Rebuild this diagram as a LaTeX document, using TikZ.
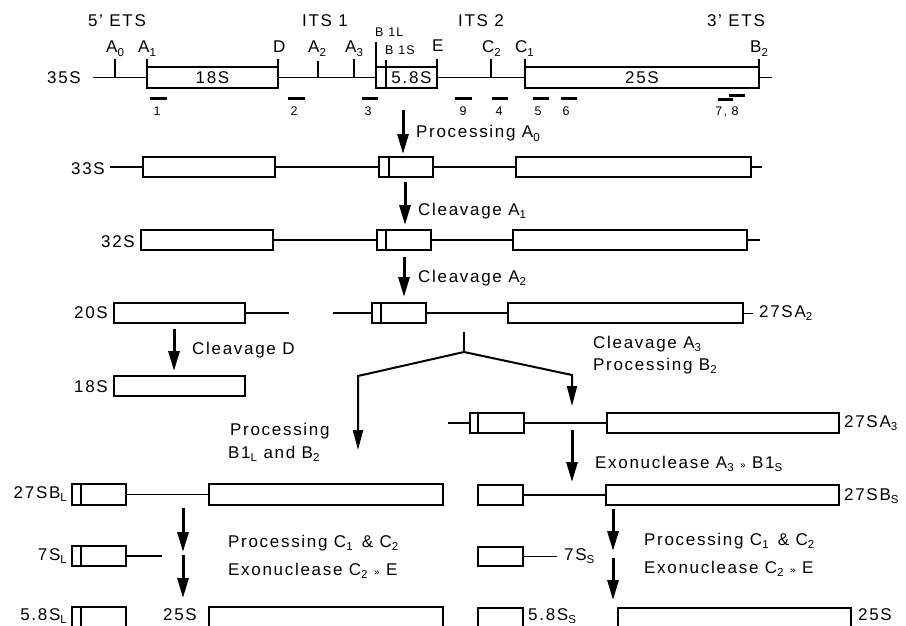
\documentclass[tikz,border=0pt]{standalone}
\usepackage{fontspec}
\setmainfont[LetterSpace=10]{Liberation Sans}
\usetikzlibrary{arrows.meta}
\newcommand\lsub[1]{\raisebox{-0.35ex}{\fontsize{11.5}{12}\selectfont #1}}
\newcommand\gtsep{{\fontsize{10}{12}\selectfont »}}
\newcommand\bx[5]{\node[rnabox, minimum width={#4-#2}, minimum height={#5-#3}] (#1) at ({(#2+#4)/2},{(#3+#5)/2}) {};}
\newcommand\inner[2]{\draw[ln] ([xshift=#2]#1.north west) -- ([xshift=#2]#1.south west);}
\tikzset{
  ln/.style={line width=1.6pt},
  thinln/.style={line width=0.9pt},
  rnabox/.style={draw, line width=1.6pt, rectangle, inner sep=0pt, outer sep=0pt, fill=white},
  lbl/.style={inner sep=0pt, font=\fontsize{17}{19}\selectfont},
  sml/.style={inner sep=0pt, font=\fontsize{12.5}{14}\selectfont},
  probe/.style={line width=3pt},
  bigarrow/.style={line width=3pt, -{Triangle[length=20pt,width=11pt]}},
  brarrow/.style={line width=2pt, -{Triangle[length=20pt,width=10pt]}},
}
\begin{document}
\begin{tikzpicture}[x=1pt,y=-1pt]
\useasboundingbox (0,0) rectangle (906,626);
\fill[white] (0,0) rectangle (906,626);
\clip (0,0) rectangle (906,626);

% ---------- Row 35S ----------
\node[lbl, anchor=base] (ets5) at (117,27) {5' ETS};
\node[lbl, anchor=base] (its1) at (325,27) {ITS 1};
\node[lbl, anchor=base] (its2) at (481,27) {ITS 2};
\node[lbl, anchor=base] (ets3) at (736,27) {3' ETS};
\node[lbl, anchor=base east] (n35) at (81,84) {35S};
\coordinate (s35) at (93,77.5);
\coordinate (e35) at (772,77.5);
\bx{a18}{147}{67}{278}{88}
\bx{a58}{376}{67}{437}{88}
\bx{a25}{525}{67}{759}{88}
\inner{a58}{10pt}
\draw[ln] (s35) -- (a18.west) (a18.east) -- (a58.west) (a58.east) -- (a25.west) (a25.east) -- (e35);
\node[lbl] (t18) at (212.5,77.5) {18S};
\node[lbl] (t58) at (411.5,77.5) {5.8S};
\node[lbl] (t25) at (642,77.5) {25S};
% ticks
\draw[ln] (115,59) -- (115,77.5);
\draw[ln] (147,59) -- (147,67);
\draw[ln] (278,59) -- (278,67);
\draw[ln] (318,61) -- (318,77.5);
\draw[ln] (354,59) -- (354,77.5);
\draw[ln] (376,42) -- (376,67);
\draw[ln] (386,60) -- (386,67);
\draw[ln] (437,59) -- (437,67);
\draw[ln] (491,59) -- (491,77.5);
\draw[ln] (525,59) -- (525,67);
\draw[ln] (759,59) -- (759,67);
% site labels
\node[lbl, anchor=base west] (sA0) at (106,53) {A\lsub{0}};
\node[lbl, anchor=base west] (sA1) at (138,53) {A\lsub{1}};
\node[lbl, anchor=base west] (sD) at (273,53) {D};
\node[lbl, anchor=base west] (sA2) at (308,53) {A\lsub{2}};
\node[lbl, anchor=base west] (sA3) at (345,53) {A\lsub{3}};
\node[sml, anchor=base west] (sB1L) at (375,37) {B 1L};
\node[sml, anchor=base west] (sB1S) at (385,55) {B 1S};
\node[lbl, anchor=base west] (sE) at (432,52) {E};
\node[lbl, anchor=base west] (sC2) at (482,53) {C\lsub{2}};
\node[lbl, anchor=base west] (sC1) at (515,53) {C\lsub{1}};
\node[lbl, anchor=base west] (sB2) at (750,53) {B\lsub{2}};
% probes
\draw[probe] (150,99) -- (167,99);
\draw[probe] (288,99) -- (305,99);
\draw[probe] (362,99) -- (378,99);
\draw[probe] (455,99) -- (472,99);
\draw[probe] (492,99) -- (508,99);
\draw[probe] (533,99) -- (549,99);
\draw[probe] (561,99) -- (577,99);
\draw[probe] (718,100) -- (733,100);
\draw[probe] (729,96) -- (745,96);
\node[sml, anchor=base] (p1) at (157,115) {1};
\node[sml, anchor=base] (p2) at (294,115) {2};
\node[sml, anchor=base] (p3) at (368,115) {3};
\node[sml, anchor=base] (p9) at (463,115) {9};
\node[sml, anchor=base] (p4) at (499,115) {4};
\node[sml, anchor=base] (p5) at (538,115) {5};
\node[sml, anchor=base] (p6) at (566,115) {6};
\node[sml, anchor=base] (p78) at (727,115) {7, 8};

% ---------- Processing A0 ----------
\coordinate (ar1s) at (403,110);
\coordinate (ar1e) at (403,154);
\draw[bigarrow] (ar1s) -- (ar1e);
\node[lbl, anchor=base west] (tpa0) at (416,138) {Processing A\lsub{0}};

% ---------- Row 33S ----------
\node[lbl, anchor=base east] (n33) at (105,174) {33S};
\coordinate (s33) at (110,167);
\coordinate (e33) at (762,167);
\bx{b18}{143}{157}{275}{177}
\bx{b58}{379}{157}{433}{177}
\bx{b25}{516}{157}{751}{177}
\inner{b58}{10pt}
\draw[ln] (s33) -- (b18.west) (b18.east) -- (b58.west) (b58.east) -- (b25.west) (b25.east) -- (e33);

\coordinate (ar2s) at (405,182);
\coordinate (ar2e) at (405,225);
\draw[bigarrow] (ar2s) -- (ar2e);
\node[lbl, anchor=base west] (tca1) at (418,215) {Cleavage A\lsub{1}};

% ---------- Row 32S ----------
\node[lbl, anchor=base east] (n32) at (135,247) {32S};
\coordinate (e32) at (760,240);
\bx{c18}{141}{230}{273}{250}
\bx{c58}{377}{230}{431}{250}
\bx{c25}{513}{230}{747}{250}
\inner{c58}{9pt}
\draw[ln] (c18.east) -- (c58.west) (c58.east) -- (c25.west) (c25.east) -- (e32);

\coordinate (ar3s) at (404,257);
\coordinate (ar3e) at (404,297);
\draw[bigarrow] (ar3s) -- (ar3e);
\node[lbl, anchor=base west] (tca2) at (418,282) {Cleavage A\lsub{2}};

% ---------- Row 20S / 27SA2 ----------
\node[lbl, anchor=base east] (n20) at (108,318) {20S};
\bx{d18}{114}{303}{245}{323}
\coordinate (e20) at (289,313);
\draw[ln] (d18.east) -- (e20);
\coordinate (s27a2) at (333,313);
\coordinate (e27a2) at (753,313);
\bx{d58}{372}{303}{426}{323}
\bx{d25}{508}{303}{743}{323}
\inner{d58}{9pt}
\draw[ln] (s27a2) -- (d58.west) (d58.east) -- (d25.west);
\draw[thinln] (d25.east) -- (e27a2);
\node[lbl, anchor=base west] (n27a2) at (759,317) {27SA\lsub{2}};

\coordinate (ar4s) at (174,329);
\coordinate (ar4e) at (174,371);
\draw[bigarrow] (ar4s) -- (ar4e);
\node[lbl, anchor=base west] (tcd) at (192,354) {Cleavage D};

\node[lbl, anchor=base east] (n18) at (108,392) {18S};
\bx{f18}{114}{376}{245}{396}

% ---------- Branch ----------
\coordinate (br0) at (464,332);
\coordinate (br1) at (464,352);
\coordinate (brL) at (358,376);
\coordinate (brLe) at (358,450);
\coordinate (brR) at (572,375);
\coordinate (brRe) at (572,406);
\draw[ln] (br0) -- (br1);
\draw[brarrow] (br1) -- (brL) -- (brLe);
\draw[brarrow] (br1) -- (brR) -- (brRe);
\node[lbl, anchor=base west] (tpb1) at (230,435) {Processing};
\node[lbl, anchor=base west] (tpb2) at (228,458) {B1\lsub{L} and B\lsub{2}};
\node[lbl, anchor=base west] (tca3) at (593,348) {Cleavage A\lsub{3}};
\node[lbl, anchor=base west] (tpb3) at (593,370) {Processing B\lsub{2}};

% ---------- Row 27SA3 ----------
\coordinate (s27a3) at (448,423);
\bx{g58}{470}{413}{524}{433}
\bx{g25}{607}{413}{839}{433}
\inner{g58}{8pt}
\draw[ln] (s27a3) -- (g58.west) (g58.east) -- (g25.west);
\node[lbl, anchor=base west] (n27a3) at (844,427) {27SA\lsub{3}};

\coordinate (ar5s) at (572,430);
\coordinate (ar5e) at (572,482);
\draw[bigarrow] (ar5s) -- (ar5e);
\node[lbl, anchor=base west] (texo1) at (595,468) {Exonuclease A\lsub{3} \gtsep{} B1\lsub{S}};

% ---------- Row 27SBL / 27SBS ----------
\node[lbl, anchor=base east] (n27bl) at (67,498) {27SB\lsub{L}};
\bx{h58}{72}{484}{126}{505}
\bx{h25}{209}{484}{443}{505}
\inner{h58}{9pt}
\draw[thinln] (h58.east) -- (h25.west);

\bx{i58}{478}{485}{523}{505}
\bx{i25}{606}{485}{839}{505}
\draw[ln] (i58.east) -- (i25.west);
\node[lbl, anchor=base west] (n27bs) at (844,500) {27SB\lsub{S}};

\coordinate (ar6s) at (183,508);
\coordinate (ar6e) at (183,552);
\coordinate (ar7s) at (183,555);
\coordinate (ar7e) at (183,598);
\draw[bigarrow] (ar6s) -- (ar6e);
\draw[bigarrow] (ar7s) -- (ar7e);
\coordinate (ar8s) at (613,509);
\coordinate (ar8e) at (613,551);
\coordinate (ar9s) at (613,558);
\coordinate (ar9e) at (613,600);
\draw[bigarrow] (ar8s) -- (ar8e);
\draw[bigarrow] (ar9s) -- (ar9e);

% ---------- Row 7S ----------
\node[lbl, anchor=base east] (n7sl) at (67,560) {7S\lsub{L}};
\bx{j58}{72}{546}{126}{566}
\inner{j58}{9pt}
\coordinate (e7sl) at (162,556);
\draw[ln] (j58.east) -- (e7sl);

\bx{k58}{478}{547}{523}{566}
\coordinate (e7ss) at (557,556.5);
\draw[ln] (k58.east) -- (e7ss);
\node[lbl, anchor=base west] (n7ss) at (564,560) {7S\lsub{S}};

\node[lbl, anchor=base west] (tpc1) at (228,547) {Processing C\lsub{1}\, \& C\lsub{2}};
\node[lbl, anchor=base west] (tex1) at (228,575) {Exonuclease C\lsub{2} \gtsep{} E};
\node[lbl, anchor=base west] (tpc2) at (644,545) {Processing C\lsub{1}\, \& C\lsub{2}};
\node[lbl, anchor=base west] (tex2) at (644,573) {Exonuclease C\lsub{2} \gtsep{} E};

% ---------- Bottom row ----------
\node[lbl, anchor=base east] (n58l) at (67,620) {5.8S\lsub{L}};
\bx{m58}{72}{607}{126}{645}
\inner{m58}{9pt}
\node[lbl, anchor=base east] (n25l) at (197,620) {25S};
\bx{m25}{209}{607}{443}{645}

\bx{o58}{478}{608}{523}{645}
\node[lbl, anchor=base west] (n58s) at (528,620) {5.8S\lsub{S}};
\bx{o25}{618}{608}{851}{645}
\node[lbl, anchor=base west] (n25s) at (858,620) {25S};
\end{tikzpicture}
\end{document}
